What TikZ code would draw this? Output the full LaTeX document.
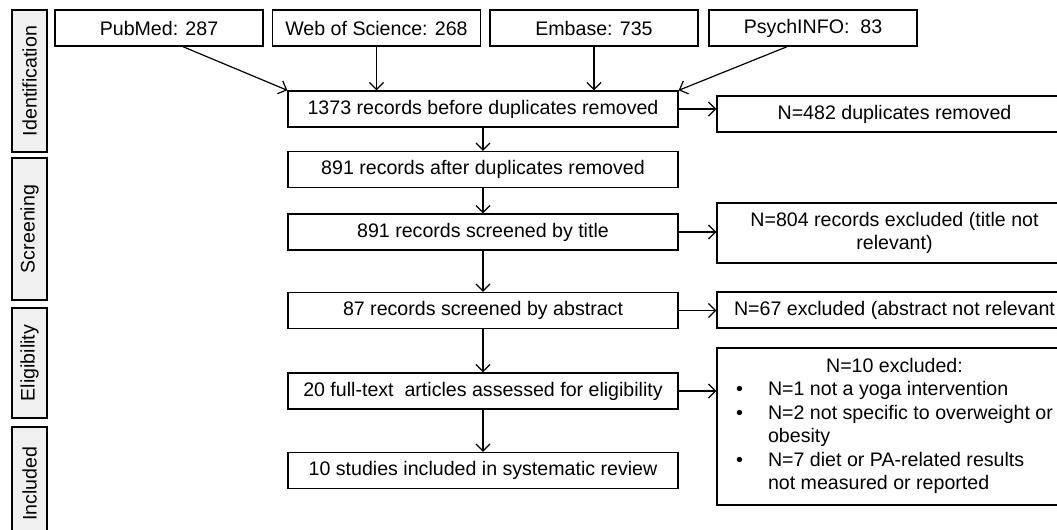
\documentclass[tikz,border=0pt]{standalone}
\usepackage{fontspec}
\setmainfont{Liberation Sans}
\usetikzlibrary{arrows.meta}
\pgfdeclarelayer{edgelayer}
\pgfdeclarelayer{nodelayer}
\pgfsetlayers{edgelayer,nodelayer,main}
\tikzstyle{none}=[inner sep=0pt]
\tikzstyle{box}=[rectangle,fill=white,draw=black,line width=0.7pt,inner sep=0pt,minimum height=18pt,font=\fontsize{9.8}{11.75}\selectfont]
\tikzstyle{phase}=[box,fill=black!6,rotate=90,minimum height=17.5pt]
\tikzstyle{source}=[box,minimum width=104pt]
\tikzstyle{stage}=[box,minimum width=195pt]
\tikzstyle{excluded}=[box,minimum width=177.5pt,align=center]
\tikzstyle{transition}=[-{Straight Barb[length=3.5pt,width=7pt]},draw=black,line width=0.6pt]

\begin{document}
\begin{tikzpicture}[x=0.5pt,y=0.5pt]
	\useasboundingbox (0, 0) rectangle (1057, -530);
	\begin{pgfonlayer}{nodelayer}
		\node [style=phase, minimum width=71pt] (0) at (29.5, -81) {Identification};
		\node [style=phase, minimum width=71pt] (1) at (29.5, -229) {Screening};
		\node [style=phase, minimum width=55pt] (2) at (29.5, -363) {Eligibility};
		\node [style=phase, minimum width=56.5pt] (3) at (29.5, -483.5) {Included};
		\node [style=source] (4) at (159, -28) {PubMed: 287};
		\node [style=source] (5) at (376.5, -28) {Web of Science: 268};
		\node [style=source] (6) at (594, -28) {Embase: 735};
		\node [style=source] (7) at (813, -28) {PsychINFO:\ \ 83};
		\node [style=stage] (8) at (483, -109) {1373 records before duplicates removed};
		\node [style=stage] (9) at (483, -169.5) {891 records after duplicates removed};
		\node [style=stage] (10) at (483, -232) {891 records screened by title};
		\node [style=stage] (11) at (483, -310.5) {87 records screened by abstract};
		\node [style=stage] (12) at (483, -391) {20 full-text\ \ articles assessed for eligibility};
		\node [style=stage] (13) at (483, -470.5) {10 studies included in systematic review};
		\node [style=excluded] (14) at (894.5, -114) {N=482 duplicates removed};
		\node [style=excluded, minimum height=30pt] (15) at (894.5, -233) {N=804 records excluded (title not\\relevant)};
		\node [style=excluded] (16) at (894.5, -310) {N=67 excluded (abstract not relevant};
		\node [style=excluded, minimum height=78.5pt] (17) at (894.5, -426.5) {%
			\begin{tabular}{@{}p{16pt}@{}l@{}}
				\multicolumn{2}{c}{N=10 excluded:}\\
				\textbullet & N=1 not a yoga intervention\\
				\textbullet & N=2 not specific to overweight or\\
				 & obesity\\
				\textbullet & N=7 diet or PA-related results\\
				 & not measured or reported
			\end{tabular}};
	\end{pgfonlayer}
	\begin{pgfonlayer}{edgelayer}
		\draw [style=transition] ([xshift=12pt]4.south) to (8.north west);
		\draw [style=transition] (5.south) to (5.south |- 8.north);
		\draw [style=transition] (6.south) to (6.south |- 8.north);
		\draw [style=transition] ([xshift=-13pt]7.south) to (8.north east);
		\draw [style=transition] (8) to (9);
		\draw [style=transition] (9) to (10);
		\draw [style=transition] (10) to (11);
		\draw [style=transition] (11) to (12);
		\draw [style=transition] (12) to (13);
		\draw [style=transition] (8.east) to (8.east -| 14.west);
		\draw [style=transition] (10.east) to (10.east -| 15.west);
		\draw [style=transition] (11.east) to (11.east -| 16.west);
		\draw [style=transition] (12.east) to (12.east -| 17.west);
	\end{pgfonlayer}
\end{tikzpicture}
\end{document}
